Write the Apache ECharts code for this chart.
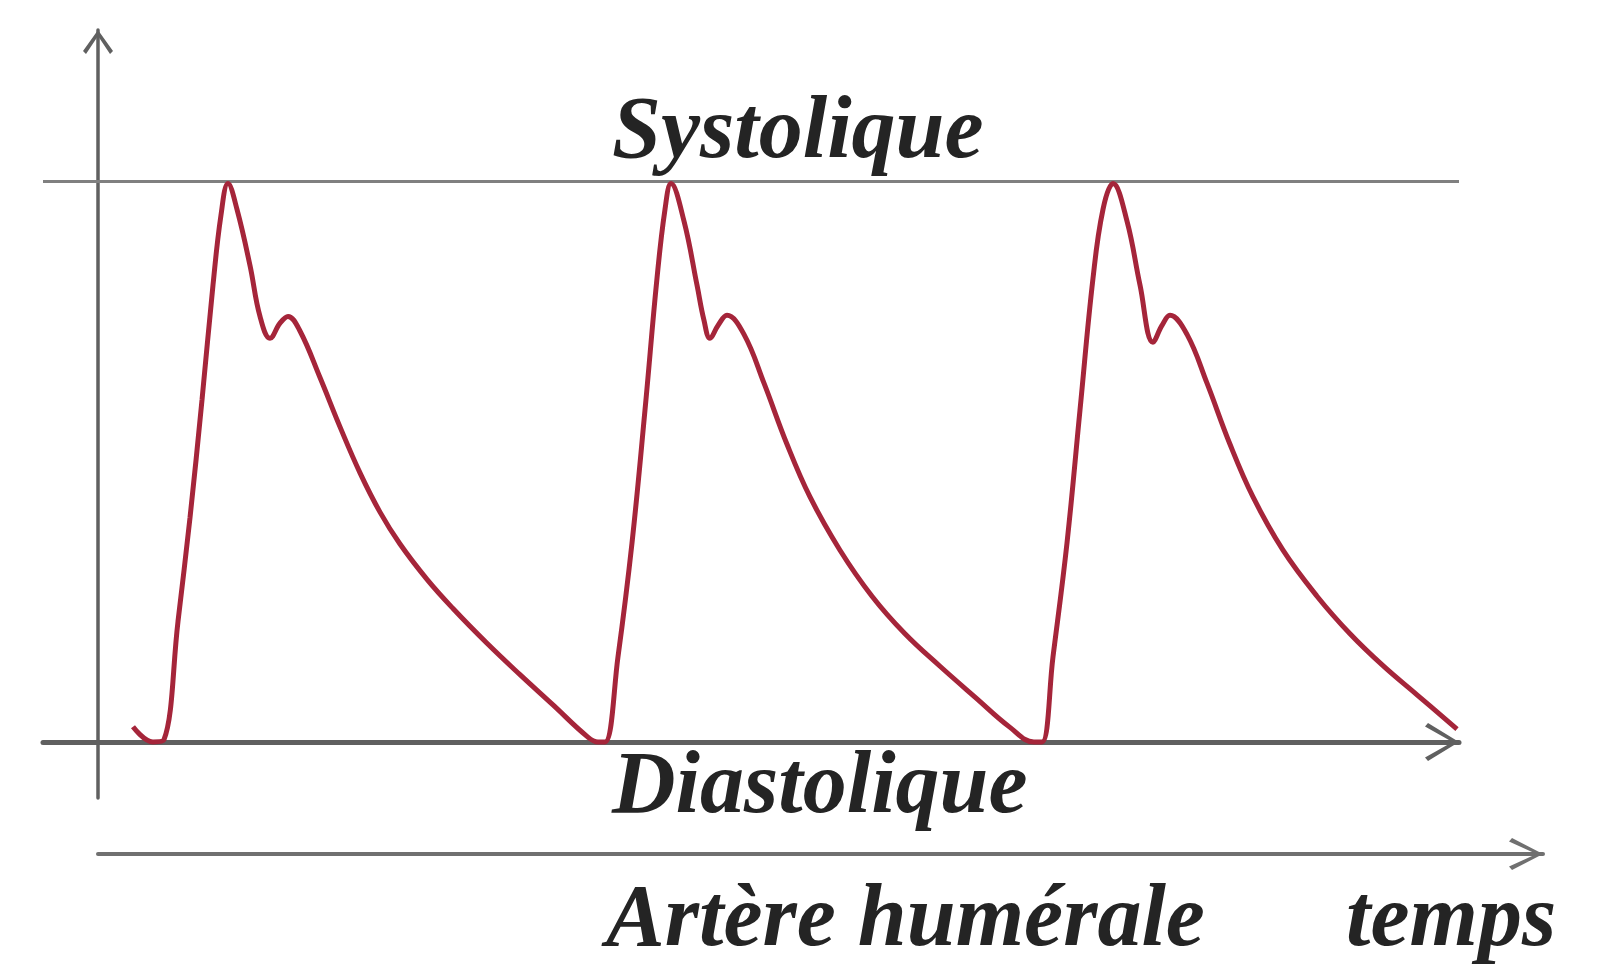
<!DOCTYPE html>
<html>
<head>
<meta charset="utf-8">
<script src="https://cdn.jsdelivr.net/npm/echarts@6/dist/echarts.min.js"></script>
<style>
html,body{margin:0;padding:0;background:#ffffff;}
#chart{width:1622px;height:964px;}
</style>
</head>
<body>
<div id="chart"></div>
<script>
// Time (arbitrary units) and pressure (0 = diastolique, 100 = systolique)
const cycle1Time     = [35, 55, 66, 80, 92, 104, 115, 123, 130, 139, 152, 162, 172, 182, 190, 202, 222, 242, 262, 282, 302, 329, 355, 389, 422, 455, 489, 500];
const cycle1Pressure = [2.7, 0, 0.4, 21.5, 40.0, 61.0, 81.5, 94.0, 99.6, 95.0, 85.0, 75.9, 72.0, 74.7, 75.9, 73.3, 65.0, 56.2, 48.0, 41.0, 35.3, 29.0, 23.8, 17.6, 12.0, 6.6, 1.0, 0];
const cycle2Time     = [507, 520, 534, 547, 559, 567, 573, 586, 599, 606, 612, 620, 629, 646, 666, 689, 712, 742, 774, 807, 842, 877, 912, 936];
const cycle2Pressure = [0, 15.2, 35.5, 59.2, 82.7, 95.0, 99.6, 92.9, 81.5, 75.2, 72.0, 74.3, 76.1, 72.7, 64.0, 53.1, 43.7, 34.2, 26.0, 19.3, 13.5, 8.0, 2.6, 0];
const cycle3Time     = [944, 955, 969, 982, 995, 1005, 1015, 1029, 1042, 1055, 1064, 1072, 1089, 1109, 1132, 1155, 1185, 1219, 1252, 1285, 1319, 1359];
const cycle3Pressure = [0, 15.2, 35.5, 59.2, 82.7, 95.0, 99.6, 92.9, 81.5, 71.3, 74.3, 76.1, 72.7, 64.0, 53.1, 43.7, 34.2, 26.0, 19.3, 13.6, 8.4, 2.3];
const systolicLevel = 100;
const labels = { systolic: 'Systolique', diastolic: 'Diastolique', artery: 'Artère humérale', time: 'temps' };

function pairs(t, p) { return t.map((v, i) => [v, p[i]]); }
const waveData = pairs(cycle1Time, cycle1Pressure)
  .concat(pairs(cycle2Time, cycle2Pressure))
  .concat(pairs(cycle3Time, cycle3Pressure));

const chart = echarts.init(document.getElementById('chart'), null, { renderer: 'canvas' });
const axisGray = '#606060';
const textFont = 'bold italic 88px "Liberation Serif", serif';

const option = {
  backgroundColor: '#ffffff',
  animation: false,
  grid: [
    { left: 43, width: 1416, top: 30, height: 768 },
    { left: 98, width: 1445, top: 850, height: 4 }
  ],
  xAxis: [
    {
      type: 'value', gridIndex: 0, min: -55, max: 1361,
      axisLine: {
        show: true, onZero: true,
        lineStyle: { color: axisGray, width: 5 },
        symbol: ['none', 'path://M19,0 L38,31 L34.5,34 L19,6.5 L3.5,34 L0,31 Z'],
        symbolSize: [38, 34],
        symbolOffset: [0, -17]
      },
      axisTick: { show: false }, axisLabel: { show: false }, splitLine: { show: false }
    },
    {
      type: 'value', gridIndex: 1, min: 0, max: 1,
      axisLine: {
        show: true, onZero: false,
        lineStyle: { color: '#707070', width: 4 },
        symbol: ['none', 'path://M16,0 L32,31 L28.5,34 L16,6.5 L3.5,34 L0,31 Z'],
        symbolSize: [32, 34],
        symbolOffset: [0, -17]
      },
      axisTick: { show: false }, axisLabel: { show: false }, splitLine: { show: false }
    }
  ],
  yAxis: [
    {
      type: 'value', gridIndex: 0, min: -10, max: 127,
      axisLine: {
        show: true, onZero: true,
        lineStyle: { color: axisGray, width: 3.5 },
        symbol: ['none', 'path://M15,0 L30,21 L27,24 L15,6 L3,24 L0,21 Z'],
        symbolSize: [30, 24],
        symbolOffset: [0, -12]
      },
      axisTick: { show: false }, axisLabel: { show: false }, splitLine: { show: false }
    },
    {
      type: 'value', gridIndex: 1, min: 0, max: 1, show: false
    }
  ],
  series: [
    {
      type: 'line',
      xAxisIndex: 0, yAxisIndex: 0,
      data: waveData,
      showSymbol: false,
      smooth: 0.4,
      lineStyle: { color: '#a5253a', width: 5 },
      z: 5,
      markLine: {
        silent: true,
        symbol: ['none', 'none'],
        label: { show: false },
        lineStyle: { color: '#808080', width: 3.2, type: 'solid' },
        data: [{ yAxis: systolicLevel }]
      }
    }
  ],
  graphic: [
    { type: 'text', left: 612, top: 90, style: { text: labels.systolic, font: textFont, fill: '#242424' } },
    { type: 'text', left: 612, top: 745, style: { text: labels.diastolic, font: textFont, fill: '#242424' } },
    { type: 'text', left: 606, top: 878, style: { text: labels.artery, font: textFont, fill: '#242424' } },
    { type: 'text', left: 1346, top: 878, style: { text: labels.time, font: textFont, fill: '#242424' } }
  ]
};
chart.setOption(option);
</script>
</body>
</html>
